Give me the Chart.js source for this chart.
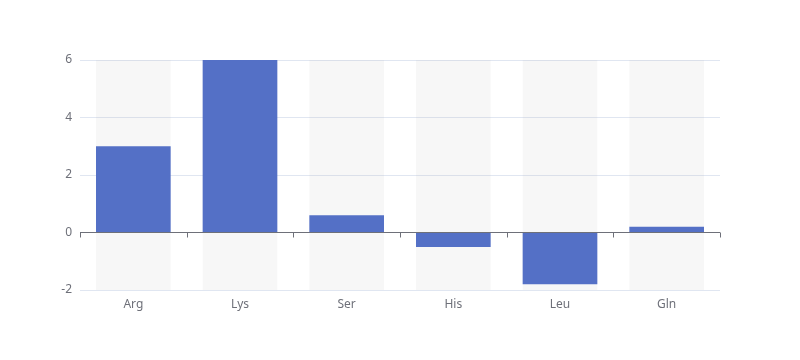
<!DOCTYPE html>
<html>
<head>
<meta charset="utf-8">
<script src="https://cdn.jsdelivr.net/npm/chart.js@4/dist/chart.umd.min.js"></script>
<style>
  html, body { margin: 0; padding: 0; background: #fff; }
  #wrap { width: 800px; height: 360px; }
</style>
</head>
<body>
<div id="wrap"><canvas id="grafico"></canvas></div>
<script>
// Dados do gráfico
const categorias = ['Arg', 'Lys', 'Ser', 'His', 'Leu', 'Gln'];
const valores = [3, 6, 0.6, -0.5, -1.8, 0.2];
const yMin = -2;
const yMax = 6;
const yPasso = 2;

const corTexto = '#6E7079';
const corGrade = '#E0E6F1';

// Fundo cinza atrás de cada barra (como showBackground)
const fundoBarras = {
    id: 'fundoBarras',
    beforeDatasetsDraw(chart) {
        const ctx = chart.ctx;
        const area = chart.chartArea;
        const meta = chart.getDatasetMeta(0);
        ctx.save();
        ctx.fillStyle = 'rgba(180,180,180,0.1)';
        meta.data.forEach(bar => {
            const w = bar.width;
            ctx.fillRect(bar.x - w / 2, area.top, w, area.bottom - area.top);
        });
        ctx.restore();
    }
};

// Linha do eixo x no zero com marcas entre categorias
const eixoZero = {
    id: 'eixoZero',
    afterDatasetsDraw(chart) {
        const ctx = chart.ctx;
        const x = chart.scales.x;
        const y0 = Math.floor(chart.scales.y.getPixelForValue(0)) + 0.5;
        ctx.save();
        ctx.strokeStyle = corTexto;
        ctx.lineWidth = 1;
        ctx.beginPath();
        ctx.moveTo(x.left, y0);
        ctx.lineTo(x.right, y0);
        for (let i = 0; i <= categorias.length; i++) {
            const px = Math.round(x.getPixelForValue(i - 0.5)) + 0.5;
            ctx.moveTo(px, y0);
            ctx.lineTo(px, y0 + 5);
        }
        ctx.stroke();
        ctx.restore();
    }
};

new Chart(document.getElementById('grafico'), {
    type: 'bar',
    data: {
        labels: categorias,
        datasets: [{
            data: valores,
            backgroundColor: '#5470C6',
            barPercentage: 0.7,
            categoryPercentage: 1
        }]
    },
    options: {
        responsive: true,
        maintainAspectRatio: false,
        animation: false,
        layout: { padding: { top: 60, right: 80, left: 0, bottom: 0 } },
        plugins: {
            legend: { display: false },
            tooltip: { enabled: false }
        },
        scales: {
            x: {
                grid: { display: false },
                border: { display: false },
                ticks: {
                    color: corTexto,
                    font: { family: 'Noto Sans', size: 12 },
                    padding: -1
                },
                afterFit(scale) { scale.height = 70; }
            },
            y: {
                min: yMin,
                max: yMax,
                ticks: {
                    stepSize: yPasso,
                    color: corTexto,
                    font: { family: 'Noto Sans', size: 12 },
                    padding: 8
                },
                grid: {
                    color: ctx => ctx.tick && ctx.tick.value === 0 ? 'rgba(0,0,0,0)' : corGrade,
                    drawTicks: false
                },
                border: { display: false },
                afterFit(scale) { scale.width = 80; }
            }
        }
    },
    plugins: [fundoBarras, eixoZero]
});
</script>
</body>
</html>
